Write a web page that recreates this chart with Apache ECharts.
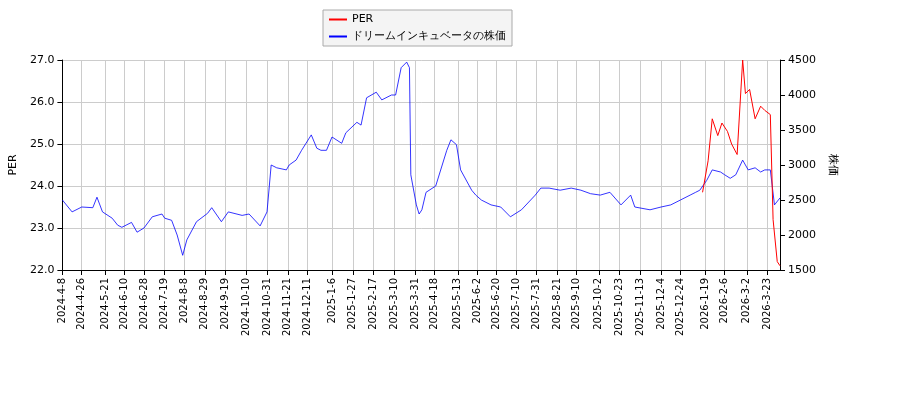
<!DOCTYPE html>
<html><head><meta charset="utf-8">
<script src="https://cdn.jsdelivr.net/npm/echarts@6/dist/echarts.min.js"></script>
<style>html,body{margin:0;padding:0;background:#fff}#c{width:900px;height:400px}</style>
</head><body><div id="c"></div>
<script>
const tickLabels = ["2024-4-8","2024-4-26","2024-5-21","2024-6-10","2024-6-28","2024-7-19","2024-8-8","2024-8-29","2024-9-19","2024-10-10","2024-10-31","2024-11-21","2024-12-11","2025-1-6","2025-1-27","2025-2-17","2025-3-10","2025-3-31","2025-4-18","2025-5-13","2025-6-2","2025-6-20","2025-7-10","2025-7-31","2025-8-21","2025-9-10","2025-10-2","2025-10-23","2025-11-13","2025-12-4","2025-12-24","2026-1-19","2026-2-6","2026-3-2","2026-3-23"];
const priceX = [60,70,80,90,95,100,110,115,120,130,135,142,150,160,163,170,175,181,185,195,205,210,220,226,240,247,258,265,270,275,285,288,295,300,310,315,320,325,330,340,345,355,360,365,375,380,390,395,400,405,408,410,415,418,420,425,435,445,450,455,460,470,475,480,490,500,510,520,535,540,548,560,570,580,590,600,610,620,630,635,650,660,670,680,690,695,700,707,712,720,725,730,735,742,748,755,760,765,770,775,780];
const priceValues = [2500,2330,2400,2390,2540,2330,2240,2140,2110,2180,2040,2100,2260,2300,2240,2210,2000,1710,1930,2190,2310,2390,2190,2330,2280,2300,2130,2330,3000,2960,2930,3000,3070,3210,3430,3240,3210,3210,3400,3310,3460,3610,3570,3960,4040,3930,4000,4000,4390,4470,4390,2860,2430,2300,2360,2610,2700,3210,3360,3290,2930,2640,2570,2500,2430,2400,2260,2360,2570,2670,2670,2640,2670,2640,2590,2570,2610,2430,2570,2400,2360,2400,2430,2500,2570,2610,2640,2780,2930,2900,2860,2810,2860,3070,2930,2960,2900,2930,2930,2430,2530];
const perX = [703,708,712,717,722,727,732,737,742,745,750,755,760,765,770,773,777,780];
const perValues = [23.85,24.6,25.6,25.2,25.5,25.3,25.0,24.75,27.0,26.2,26.3,25.6,25.9,25.8,25.7,23.2,22.2,22.1];

const cats = [];
const toStr = d => d.getFullYear()+"-"+(d.getMonth()+1)+"-"+d.getDate();
let d = new Date(2024,3,8);
const end = new Date(2026,3,3);
while (d <= end) { const w=d.getDay(); if(w!==0&&w!==6) cats.push(toStr(d)); d.setDate(d.getDate()+1); }
const N = cats.length;
const tickSet = new Set(tickLabels);
const idx = x => Math.max(0, Math.min(N-1, Math.round((x-60)/720*(N-1))));
const priceData = cats.map(()=>null), perData = cats.map(()=>null);
priceX.forEach((x,i)=>priceData[idx(x)] = priceValues[i]);
perX.forEach((x,i)=>perData[idx(x)] = perValues[i]);
const showTick = (i,v) => tickSet.has(v);

const chart = echarts.init(document.getElementById('c'));
chart.setOption({
  animation:false,
  textStyle:{fontFamily:'DejaVu Sans'},
  legend:{top:10,left:323,orient:'vertical',itemWidth:18,itemHeight:2,itemGap:6,
    backgroundColor:'#f4f4f4',borderColor:'#aaa',borderWidth:1,borderRadius:0,padding:[4,6],
    textStyle:{fontSize:11,color:'#000'},
    data:[{name:'PER',icon:'rect'},{name:'ドリームインキュベータの株価',icon:'rect'}]},
  grid:{left:60,right:120,top:60,bottom:130},
  xAxis:{type:'category',data:cats,boundaryGap:false,
    axisLine:{lineStyle:{color:'#000'}},
    axisTick:{interval:showTick,lineStyle:{color:'#000'}},
    axisLabel:{interval:showTick,rotate:90,fontSize:10,color:'#000'},
    splitLine:{show:true,interval:showTick,lineStyle:{color:'#ccc'}}},
  yAxis:[
    {type:'value',min:22,max:27,interval:1,name:'PER',nameLocation:'middle',nameGap:38,
     nameTextStyle:{fontSize:11,color:'#000'},
     axisLine:{show:true,lineStyle:{color:'#000'}},axisTick:{show:true},
     axisLabel:{formatter:v=>v.toFixed(1),fontSize:11,color:'#000'},
     splitLine:{lineStyle:{color:'#ccc'}}},
    {type:'value',min:1500,max:4500,interval:500,name:'株価',nameLocation:'middle',nameGap:45,
     nameRotate:-90,nameTextStyle:{fontSize:11,color:'#000'},
     axisLine:{show:true,lineStyle:{color:'#000'}},axisTick:{show:true},
     axisLabel:{formatter:v=>String(v),fontSize:11,color:'#000'},splitLine:{show:false}}
  ],
  series:[
    {name:'PER',type:'line',yAxisIndex:0,data:perData,connectNulls:true,showSymbol:false,
     lineStyle:{color:'#ff0000',width:1},itemStyle:{color:'#ff0000'},z:3},
    {name:'ドリームインキュベータの株価',type:'line',yAxisIndex:1,data:priceData,connectNulls:true,showSymbol:false,
     lineStyle:{color:'#0000ff',width:0.8},itemStyle:{color:'#0000ff'},z:2}
  ]
});
</script></body></html>
